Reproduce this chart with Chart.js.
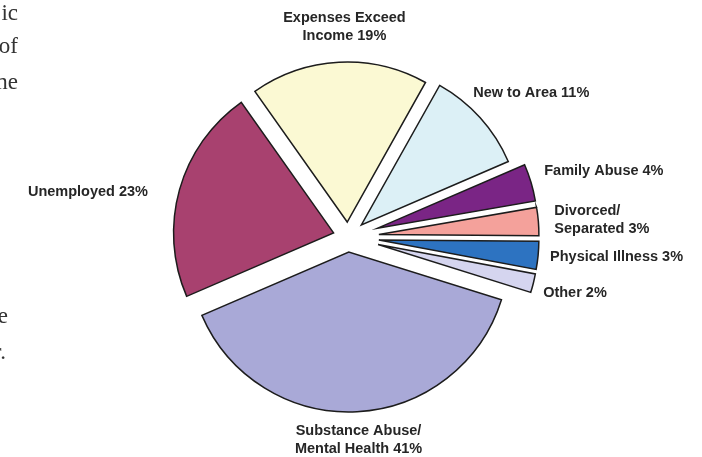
<!DOCTYPE html>
<html>
<head>
<meta charset="utf-8">
<script src="https://cdn.jsdelivr.net/npm/chart.js@4.4.0/dist/chart.umd.min.js"></script>
<style>
  body { margin: 0; background: #fff; }
  #wrap { position: relative; width: 702px; height: 457px; overflow: hidden; background: #fff; }
  .frag { position: absolute; font-family: "Liberation Serif", serif; font-size: 23px; color: #333; line-height: 1; white-space: nowrap; }
</style>
</head>
<body>
<div id="wrap">
  <canvas id="myChart" width="702" height="457"></canvas>
  <span class="frag" style="right:684px;top:1px">ic</span>
  <span class="frag" style="right:684px;top:34px">of</span>
  <span class="frag" style="right:684px;top:70px">ne</span>
  <span class="frag" style="right:694px;top:304px">e</span>
  <span class="frag" style="right:696px;top:340px">r.</span>
</div>
<script>
// categories ("\n" = line break in the label), values in percent
let categories = [
  "Substance Abuse/\nMental Health",
  "Unemployed",
  "Expenses Exceed\nIncome",
  "New to Area",
  "Family Abuse",
  "Divorced/\nSeparated",
  "Physical Illness",
  "Other",
];
let percents = [41, 23, 19, 11, 4, 3, 3, 2];

// styling
let colors = ["#a9a9d7", "#a8416f", "#fbf9d3", "#dcf0f6", "#7a2585", "#f4a19b", "#2d73c1", "#d5d5ef"];
let explode = [15, 15, 15, 18, 31, 31, 31, 31];
let labelDist = [203, 205, 210, 191, 207, 207, 203, 203];
let labelNudge = [0, -3, 2, -7, -2, 0, 0, 2];

const labelPlugin = {
  id: "explodedLabels",
  beforeDatasetDraw(chart, args) {
    const ctx = chart.ctx;
    args.meta.data.forEach((arc, i) => {
      const mid = (arc.startAngle + arc.endAngle) / 2;
      ctx.save();
      ctx.translate(Math.cos(mid) * explode[i], Math.sin(mid) * explode[i]);
      arc.draw(ctx);
      ctx.restore();
    });
    return false;
  },
  afterDatasetsDraw(chart) {
    const ctx = chart.ctx;
    const meta = chart.getDatasetMeta(0);
    ctx.save();
    ctx.font = "bold 14.5px 'Liberation Sans', Arial, sans-serif";
    ctx.fillStyle = "#262626";
    ctx.textBaseline = "middle";
    const lh = 18;
    meta.data.forEach((arc, i) => {
      const ang = (arc.startAngle + arc.endAngle) / 2 + (labelNudge[i] * Math.PI) / 180;
      const x = arc.x + Math.cos(ang) * labelDist[i];
      const y = arc.y + Math.sin(ang) * labelDist[i];
      const c = Math.cos(ang);
      ctx.textAlign = c > 0.3 ? "left" : c < -0.3 ? "right" : "center";
      const lines = categories[i].split("\n");
      lines[lines.length - 1] += " " + percents[i] + "%";
      const y0 = y - ((lines.length - 1) * lh) / 2;
      lines.forEach((t, k) => ctx.fillText(t, x, y0 + k * lh));
    });
    ctx.restore();
  },
};

let myChart = new Chart(document.getElementById("myChart").getContext("2d"), {
  type: "pie",
  data: {
    labels: categories.map((c) => c.replace("\n", " ")),
    datasets: [
      {
        data: percents,
        backgroundColor: colors,
        borderColor: "#1c1c1c",
        borderWidth: 1.5,
        borderJoinStyle: "miter",
      },
    ],
  },
  options: {
    responsive: false,
    animation: false,
    events: [],
    rotation: 107.4,
    radius: 160,
    layout: { padding: { left: 0, right: 6, top: 17, bottom: 0 } },
    plugins: {
      legend: { display: false },
      tooltip: { enabled: false },
    },
  },
  plugins: [labelPlugin],
});
</script>
</body>
</html>
